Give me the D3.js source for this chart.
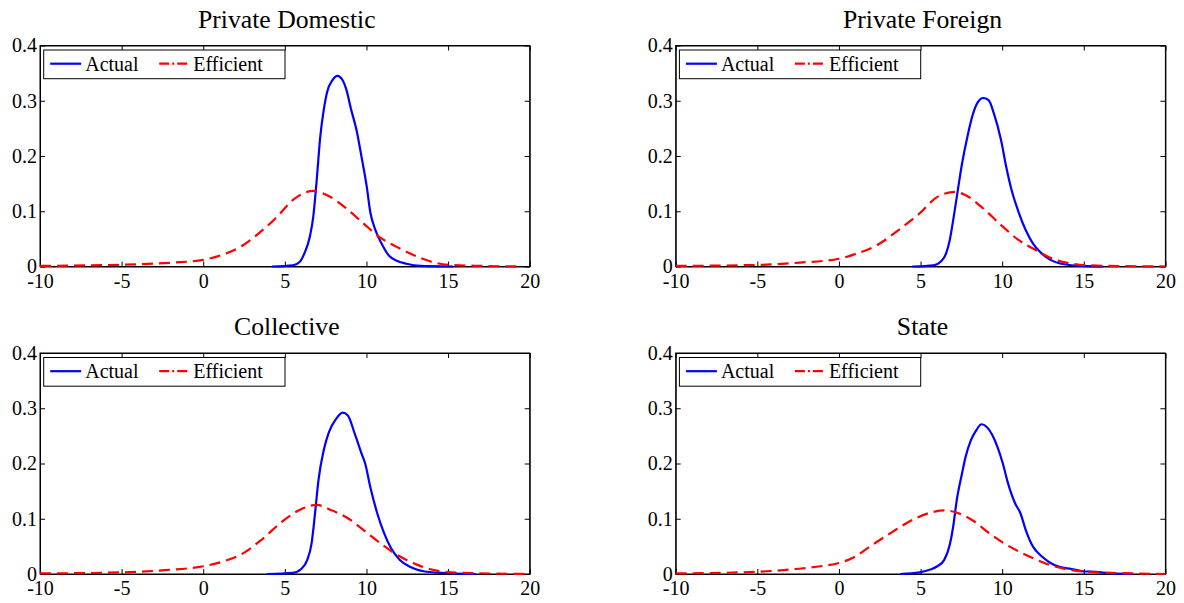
<!DOCTYPE html>
<html>
<head>
<meta charset="utf-8">
<script src="https://cdn.jsdelivr.net/npm/d3@7"></script>
<style>
  body { margin: 0; background: #fff; }
  text { font-family: "Liberation Serif", "Times New Roman", serif; fill: #000; }
</style>
</head>
<body>
<svg id="chart" width="1184" height="603"></svg>
<script>
// titles and ticks
const panelTitles = ["Private Domestic", "Private Foreign", "Collective", "State"];
const xTicks = [-10, -5, 0, 5, 10, 15, 20];
const yTicks = [0, 0.1, 0.2, 0.3, 0.4];
const legendLabels = ["Actual", "Efficient"];

// density curves, [x, density]
const domesticActual = [[4.2,0],[5.5,0.002],[5.9,0.008],[6.2,0.024],[6.53,0.054],[6.74,0.09],[6.95,0.156],[7.17,0.235],[7.38,0.283],[7.59,0.316],[7.91,0.337],[8.22,0.345],[8.54,0.337],[8.75,0.322],[9.07,0.283],[9.39,0.247],[9.7,0.198],[10.02,0.144],[10.23,0.099],[10.55,0.066],[10.97,0.039],[11.4,0.019],[11.82,0.011],[12.45,0.005],[13.3,0.001],[15.3,0]];
const domesticEfficient = [[-10,0.001],[-7,0.002],[-4,0.004],[-1.9,0.007],[0,0.012],[1.25,0.022],[2.3,0.036],[3.36,0.059],[4.42,0.087],[5.48,0.12],[6.1,0.132],[6.74,0.137],[7.59,0.129],[8.65,0.108],[9.7,0.081],[10.76,0.054],[11.82,0.036],[12.87,0.021],[13.93,0.009],[15,0.003],[17.1,0.001],[19.4,0]];

const foreignActual = [[4.5,0],[5.8,0.002],[6.24,0.009],[6.57,0.024],[6.79,0.048],[7.0,0.084],[7.22,0.126],[7.54,0.186],[7.87,0.235],[8.19,0.274],[8.52,0.298],[8.84,0.305],[9.17,0.301],[9.49,0.277],[9.93,0.229],[10.25,0.18],[10.58,0.138],[11.0,0.099],[11.44,0.066],[11.88,0.042],[12.3,0.027],[12.96,0.012],[13.8,0.004],[14.9,0.001],[16.2,0]];
const foreignEfficient = [[-10,0.001],[-4.8,0.003],[-2.4,0.007],[0,0.014],[1.05,0.023],[2.35,0.039],[3.65,0.066],[4.94,0.096],[6.03,0.126],[7.11,0.135],[7.76,0.129],[8.84,0.105],[9.93,0.075],[11.0,0.048],[12.1,0.029],[13.17,0.013],[14.26,0.005],[15.34,0.002],[20,0]];

const collectiveActual = [[3.9,0],[5.48,0.002],[6.0,0.009],[6.38,0.026],[6.64,0.056],[6.85,0.11],[7.06,0.17],[7.38,0.224],[7.7,0.257],[8.12,0.28],[8.54,0.292],[8.86,0.287],[9.28,0.254],[9.7,0.218],[9.92,0.2],[10.23,0.158],[10.66,0.11],[11.08,0.074],[11.5,0.047],[12.03,0.026],[12.66,0.013],[13.5,0.005],[14.57,0.002],[16.7,0]];
const collectiveEfficient = [[-10,0.001],[-4.9,0.003],[-2.35,0.007],[0,0.014],[1.25,0.023],[2.3,0.035],[3.57,0.062],[4.84,0.095],[5.9,0.116],[6.96,0.125],[7.8,0.116],[8.86,0.101],[9.92,0.077],[10.97,0.053],[12.03,0.032],[13.09,0.017],[14.14,0.007],[15.2,0.003],[20,0]];

const stateActual = [[3.75,0],[4.94,0.003],[5.6,0.008],[6.03,0.014],[6.46,0.026],[6.79,0.053],[7.0,0.086],[7.22,0.134],[7.54,0.182],[7.76,0.212],[8.08,0.242],[8.41,0.26],[8.73,0.271],[9.06,0.266],[9.71,0.23],[10.04,0.2],[10.36,0.164],[10.79,0.128],[11.12,0.11],[11.44,0.08],[11.88,0.05],[12.42,0.032],[12.96,0.02],[13.5,0.013],[14.26,0.009],[14.9,0.005],[15.77,0.004],[16.64,0.001],[17.94,0]];
const stateEfficient = [[-10,0.001],[-5,0.004],[-2.64,0.009],[-1.12,0.014],[0,0.02],[0.83,0.029],[1.91,0.05],[3.21,0.075],[4.51,0.098],[5.6,0.111],[6.46,0.115],[7.33,0.11],[8.3,0.095],[9.06,0.077],[9.93,0.059],[11.0,0.041],[12.1,0.026],[13.17,0.014],[14.26,0.007],[15.34,0.004],[20,0]];

const panels = [
  { title: panelTitles[0], actual: domesticActual, efficient: domesticEfficient, left: 40, top: 45.5 },
  { title: panelTitles[1], actual: foreignActual, efficient: foreignEfficient, left: 675.7, top: 45.5 },
  { title: panelTitles[2], actual: collectiveActual, efficient: collectiveEfficient, left: 40, top: 353 },
  { title: panelTitles[3], actual: stateActual, efficient: stateEfficient, left: 675.7, top: 353 }
];

const W = 489.7, H = 221;
const svg = d3.select('#chart');
const fmtX = d => String(d);
const fmtY = d => d === 0 ? "0" : d.toFixed(1);

panels.forEach(function(p) {
  const g = svg.append('g').attr('transform', `translate(${p.left},${p.top})`);
  const x = d3.scaleLinear().domain([-10, 20]).range([0, W]);
  const y = d3.scaleLinear().domain([0, 0.4]).range([H, 0]);

  // title
  g.append('text')
    .attr('x', W / 2 + 2)
    .attr('y', -18)
    .attr('text-anchor', 'middle')
    .style('font-size', '25.7px')
    .text(p.title);

  // box
  g.append('rect')
    .attr('width', W).attr('height', H)
    .attr('fill', 'none').attr('stroke', '#000').attr('stroke-width', 1);

  // axes, ticks pointing inward
  g.append('g').attr('transform', `translate(0,${H})`)
    .call(d3.axisBottom(x).tickValues(xTicks).tickFormat(fmtX).tickSizeInner(-5).tickSizeOuter(0).tickPadding(7));
  g.append('g')
    .call(d3.axisLeft(y).tickValues(yTicks).tickFormat(fmtY).tickSizeInner(-5).tickSizeOuter(0).tickPadding(3));
  g.append('g')
    .call(d3.axisTop(x).tickValues(xTicks).tickFormat('').tickSizeInner(-5).tickSizeOuter(0));
  g.append('g').attr('transform', `translate(${W},0)`)
    .call(d3.axisRight(y).tickValues(yTicks).tickFormat('').tickSizeInner(-5).tickSizeOuter(0));

  g.selectAll('.tick text').style('font-size', '20px').style('font-family', '"Liberation Serif", "Times New Roman", serif');
  g.selectAll('.domain, .tick line').attr('stroke', '#000');

  const line = d3.line()
    .x(d => x(d[0]))
    .y(d => y(d[1]))
    .curve(d3.curveMonotoneX);

  g.append('path').datum(p.actual)
    .attr('d', line)
    .attr('fill', 'none').attr('stroke', '#0000ff').attr('stroke-width', 2.2);

  g.append('path').datum(p.efficient)
    .attr('d', line)
    .attr('fill', 'none').attr('stroke', '#ff0000').attr('stroke-width', 2.2)
    .attr('stroke-dasharray', '11,6');

  // legend
  const lg = g.append('g').attr('transform', 'translate(3.7,4.5)');
  lg.append('rect')
    .attr('width', 241.3).attr('height', 28.7)
    .attr('fill', '#fff').attr('stroke', '#000').attr('stroke-width', 1);
  lg.append('line')
    .attr('x1', 6.5).attr('x2', 37.5).attr('y1', 13.7).attr('y2', 13.7)
    .attr('stroke', '#0000ff').attr('stroke-width', 2.2);
  lg.append('text')
    .attr('x', 41.5).attr('y', 20.5)
    .style('font-size', '20px')
    .text(legendLabels[0]);
  lg.append('line')
    .attr('x1', 115.5).attr('x2', 145.5).attr('y1', 13.7).attr('y2', 13.7)
    .attr('stroke', '#ff0000').attr('stroke-width', 2.2)
    .attr('stroke-dasharray', '10,3,2,3');
  lg.append('text')
    .attr('x', 149.5).attr('y', 20.5)
    .style('font-size', '20px')
    .text(legendLabels[1]);
});
</script>
</body>
</html>
